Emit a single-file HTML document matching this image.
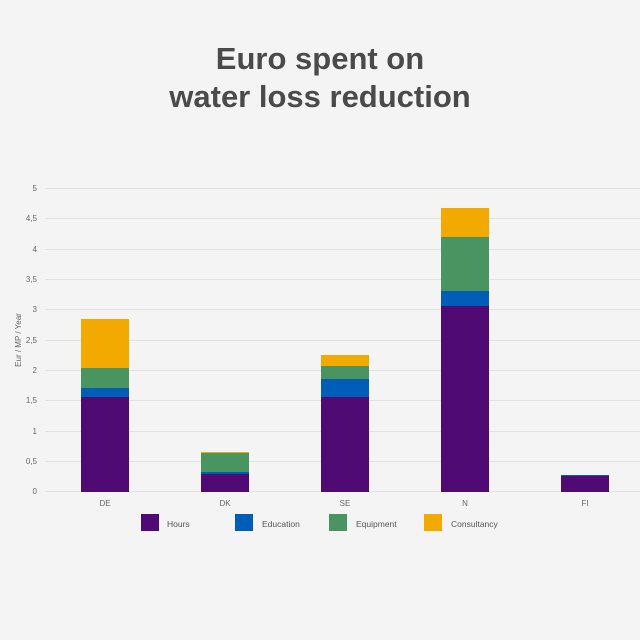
<!DOCTYPE html>
<html><head><style>
html,body{margin:0;padding:0;background:#f4f4f4;}
svg{display:block;font-family:"Liberation Sans",sans-serif;}
</style></head><body>
<svg width="640" height="640" viewBox="0 0 640 640">
<rect width="640" height="640" fill="#f4f4f4"/>
<text x="320" y="69" text-anchor="middle" font-size="31" font-weight="bold" fill="#4a4a4a">Euro spent on</text>
<text x="320" y="107" text-anchor="middle" font-size="31" font-weight="bold" fill="#4a4a4a">water loss reduction</text>
<g stroke="#e2e2e2" stroke-width="1">
<line x1="45" x2="640" y1="188.5" y2="188.5"/>
<line x1="45" x2="640" y1="218.5" y2="218.5"/>
<line x1="45" x2="640" y1="249.5" y2="249.5"/>
<line x1="45" x2="640" y1="279.5" y2="279.5"/>
<line x1="45" x2="640" y1="309.5" y2="309.5"/>
<line x1="45" x2="640" y1="340.5" y2="340.5"/>
<line x1="45" x2="640" y1="370.5" y2="370.5"/>
<line x1="45" x2="640" y1="400.5" y2="400.5"/>
<line x1="45" x2="640" y1="431.5" y2="431.5"/>
<line x1="45" x2="640" y1="461.5" y2="461.5"/>
<line x1="45" x2="640" y1="491.5" y2="491.5"/>
</g>
<g font-size="8" fill="#666" text-anchor="end">
<text x="37" y="191">5</text><text x="37" y="221">4,5</text><text x="37" y="252">4</text>
<text x="37" y="282">3,5</text><text x="37" y="312">3</text><text x="37" y="343">2,5</text>
<text x="37" y="373">2</text><text x="37" y="403">1,5</text><text x="37" y="434">1</text>
<text x="37" y="464">0,5</text><text x="37" y="494">0</text>
</g>
<text transform="translate(21,340) rotate(-90)" font-size="8" fill="#666" text-anchor="middle">Eur / MP / Year</text>
<rect x="81" y="397" width="48" height="95" fill="#500a73"/>
<rect x="81" y="388" width="48" height="9" fill="#005eb8"/>
<rect x="81" y="368" width="48" height="20" fill="#4a9462"/>
<rect x="81" y="319" width="48" height="49" fill="#f2a900"/>
<rect x="201" y="474" width="48" height="18" fill="#500a73"/>
<rect x="201" y="472" width="48" height="2" fill="#005eb8"/>
<rect x="201" y="453" width="48" height="19" fill="#4a9462"/>
<rect x="201" y="452" width="48" height="1" fill="#f2a900"/>
<rect x="321" y="397" width="48" height="95" fill="#500a73"/>
<rect x="321" y="379" width="48" height="18" fill="#005eb8"/>
<rect x="321" y="366" width="48" height="13" fill="#4a9462"/>
<rect x="321" y="355" width="48" height="11" fill="#f2a900"/>
<rect x="441" y="306" width="48" height="186" fill="#500a73"/>
<rect x="441" y="291" width="48" height="15" fill="#005eb8"/>
<rect x="441" y="237" width="48" height="54" fill="#4a9462"/>
<rect x="441" y="208" width="48" height="29" fill="#f2a900"/>
<rect x="561" y="476" width="48" height="16" fill="#500a73"/>
<rect x="561" y="475" width="48" height="1" fill="#005eb8"/>
<g font-size="8" fill="#666" text-anchor="middle">
<text x="105" y="506">DE</text><text x="225" y="506">DK</text><text x="345" y="506">SE</text>
<text x="465" y="506">N</text><text x="585" y="506">FI</text>
</g>
<rect x="141" y="514" width="18" height="17" fill="#500a73"/>
<rect x="235" y="514" width="18" height="17" fill="#005eb8"/>
<rect x="329" y="514" width="18" height="17" fill="#4a9462"/>
<rect x="424" y="514" width="18" height="17" fill="#f2a900"/>
<g font-size="8.5" fill="#555">
<text x="167" y="527">Hours</text><text x="262" y="527">Education</text>
<text x="356" y="527">Equipment</text><text x="451" y="527">Consultancy</text>
</g>
</svg>
</body></html>
